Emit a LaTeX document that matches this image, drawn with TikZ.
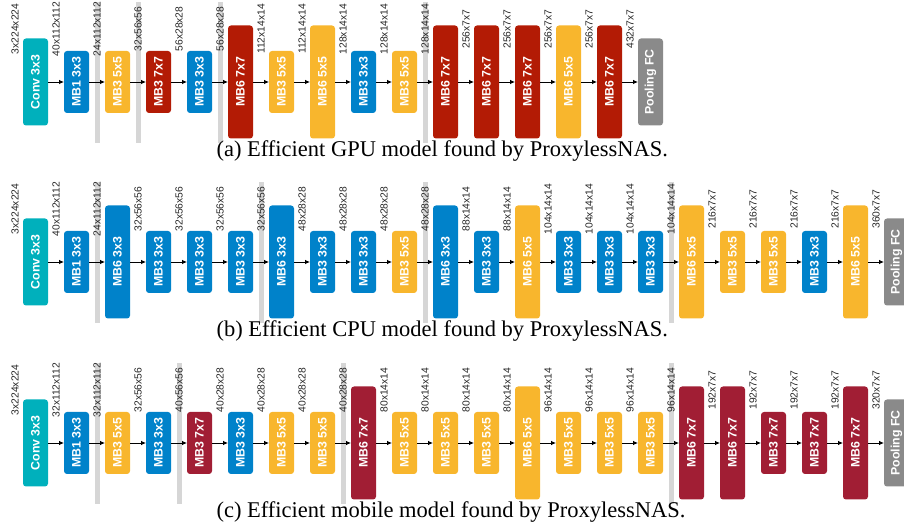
\documentclass[tikz,border=0pt]{standalone}
\usepackage{fontspec}
\setmainfont{Liberation Serif}
\setsansfont{Liberation Sans}
\usepackage{graphicx}
\usetikzlibrary{arrows.meta, positioning, calc, backgrounds}

\definecolor{convteal}{HTML}{00B0BC}
\definecolor{mbblue}{HTML}{0082CA}
\definecolor{mbyellow}{HTML}{F8B62D}
\definecolor{mbred}{HTML}{B31B05}
\definecolor{mbwine}{HTML}{A11E34}
\definecolor{poolgray}{HTML}{8A8A8A}
\definecolor{bargray}{HTML}{D6D6D6}

% one row of blocks: #1 name, #2 centre y, #3 blocks, #4 gray bars
\newcommand{\netrow}[4]{%
	\foreach \sty/\txt/\dims [count=\k from 0] in {#3}{
		\ifnum\k=0
		\node[\sty] (#1\k) at (35.5,#2) {\rotatebox{90}{\txt}};
		\else
		\pgfmathtruncatemacro{\j}{\k-1}
		\node[\sty, right=16pt of #1\j] (#1\k) {\rotatebox{90}{\txt}};
		\draw[flow] (#1\j) -- (#1\k);
		\fi
		\node[dims] at ($(#1\k.west)+(-8,53)$) {\dims};
	}
	\begin{scope}[on background layer]
		\foreach \b in {#4}
		\fill[bargray] ($(#1\b.west)+(-10.5,80)$) rectangle ($(#1\b.west)+(-5.5,-61)$);
	\end{scope}
}

\begin{document}
\begin{tikzpicture}[
	x=1pt, y=1pt,
	>={Latex[length=5pt,width=4.5pt]},
	flow/.style = {->, line width=0.8pt},
	blk/.style = {rectangle, rounded corners=3pt, minimum width=25pt, inner sep=0pt, outer sep=0pt, text=white, font=\sffamily\bfseries\fontsize{12.3}{14}\selectfont},
	shortblk/.style = {blk, minimum height=62pt},
	midblk/.style = {blk, minimum height=87pt},
	tallblk/.style = {blk, minimum height=113pt},
	conv/.style = {midblk, fill=convteal},
	pool/.style = {midblk, fill=poolgray},
	b3/.style = {shortblk, fill=mbblue},
	b6/.style = {tallblk, fill=mbblue},
	y3/.style = {shortblk, fill=mbyellow},
	y6/.style = {tallblk, fill=mbyellow},
	r3/.style = {shortblk, fill=mbred},
	r6/.style = {tallblk, fill=mbred},
	w3/.style = {shortblk, fill=mbwine},
	w6/.style = {tallblk, fill=mbwine},
	dims/.style = {rotate=90, inner sep=0pt, text=black!85, font=\sffamily\fontsize{10.3}{12}\selectfont},
	caption/.style = {anchor=base west, font=\fontsize{22.5}{27}\selectfont}
	]
	\useasboundingbox (0,0) rectangle (904,527);
	
	%% ── (a) GPU model ─────────────────────────────────────────────
	\netrow{a}{445}{conv/Conv 3x3/3x224x224, b3/MB1 3x3/40x112x112,
		y3/MB3 5x5/24x112x112, r3/MB3 7x7/32x56x56, b3/MB3 3x3/56x28x28,
		r6/MB6 7x7/56x28x28, y3/MB3 5x5/112x14x14, y6/MB6 5x5/112x14x14,
		b3/MB3 3x3/128x14x14, y3/MB3 5x5/128x14x14, r6/MB6 7x7/128x14x14,
		r6/MB6 7x7/256x7x7, r6/MB6 7x7/256x7x7, y6/MB6 5x5/256x7x7,
		r6/MB6 7x7/256x7x7, pool/Pooling FC/432x7x7}{2,3,5,10}
	\node[caption] (capa) at (213,370) {(a) Efficient GPU model found by ProxylessNAS.};
	
	%% ── (b) CPU model ─────────────────────────────────────────────
	\netrow{b}{265}{conv/Conv 3x3/3x224x224, b3/MB1 3x3/40x112x112,
		b6/MB6 3x3/24x112x112, b3/MB3 3x3/32x56x56, b3/MB3 3x3/32x56x56,
		b3/MB3 3x3/32x56x56, b6/MB6 3x3/32x56x56, b3/MB3 3x3/48x28x28,
		b3/MB3 3x3/48x28x28, y3/MB3 5x5/48x28x28, b6/MB6 3x3/48x28x28,
		b3/MB3 3x3/88x14x14, y6/MB6 5x5/88x14x14, b3/MB3 3x3/104x14x14,
		b3/MB3 3x3/104x14x14, b3/MB3 3x3/104x14x14, y6/MB6 5x5/104x14x14,
		y3/MB3 5x5/216x7x7, y3/MB3 5x5/216x7x7, b3/MB3 3x3/216x7x7,
		y6/MB6 5x5/216x7x7, pool/Pooling FC/360x7x7}{2,6,10,16}
	\node[caption] (capb) at (213,190) {(b) Efficient CPU model found by ProxylessNAS.};
	
	%% ── (c) mobile model ──────────────────────────────────────────
	\netrow{c}{84}{conv/Conv 3x3/3x224x224, b3/MB1 3x3/32x112x112,
		y3/MB3 5x5/32x112x112, b3/MB3 3x3/32x56x56, w3/MB3 7x7/40x56x56,
		b3/MB3 3x3/40x28x28, y3/MB3 5x5/40x28x28, y3/MB3 5x5/40x28x28,
		w6/MB6 7x7/40x28x28, y3/MB3 5x5/80x14x14, y3/MB3 5x5/80x14x14,
		y3/MB3 5x5/80x14x14, y6/MB6 5x5/80x14x14, y3/MB3 5x5/96x14x14,
		y3/MB3 5x5/96x14x14, y3/MB3 5x5/96x14x14, w6/MB6 7x7/96x14x14,
		w6/MB6 7x7/192x7x7, w3/MB3 7x7/192x7x7, w3/MB3 7x7/192x7x7,
		w6/MB6 7x7/192x7x7, pool/Pooling FC/320x7x7}{2,4,8,16}
	\node[caption] (capc) at (213,10) {(c) Efficient mobile model found by ProxylessNAS.};
	
\end{tikzpicture}
\end{document}
